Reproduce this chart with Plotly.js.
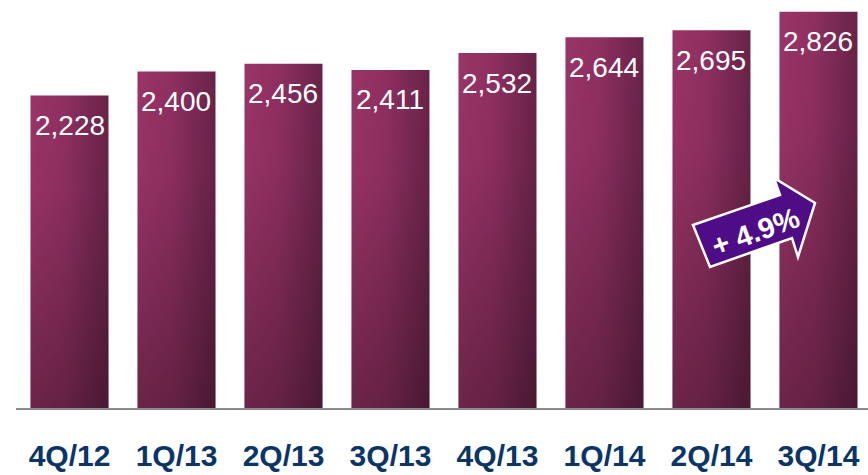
<!DOCTYPE html>
<html>
<head>
<meta charset="utf-8">
<script src="https://cdn.plot.ly/plotly-3.0.1.min.js"></script>
<style>
html,body{margin:0;padding:0;background:#fff;}
#chart{width:868px;height:475px;}
</style>
</head>
<body>
<div id="chart"></div>
<script>
const categories = ["4Q/12","1Q/13","2Q/13","3Q/13","4Q/13","1Q/14","2Q/14","3Q/14"];
const values = [2228, 2400, 2456, 2411, 2532, 2644, 2695, 2826];
const growthLabel = "+ 4.9%";

const fmt = v => v.toLocaleString("en-US");

const trace = {
  type: "bar",
  x: categories,
  y: values,
  marker: {color: "#8a2d5e", line: {width: 0}},
  hoverinfo: "none"
};

const valueAnnotations = categories.map((c, i) => ({
  x: c, y: values[i], xref: "x", yref: "y",
  text: fmt(values[i]),
  showarrow: false,
  yanchor: "middle",
  yshift: -30,
  font: {family: "Liberation Sans, Arial, sans-serif", size: 28, color: "#ffffff"}
}));

// arrow decoration (paper coords)
const P = (px, py) => [((px - 16) / 852).toFixed(4), ((408 - py) / 408).toFixed(4)];
const pts = [P(693,225), P(780,195), P(774,178), P(815,203), P(798,257), P(792,238), P(710,267)];
const arrowPath = "M " + pts.map(p => p.join(",")).join(" L ") + " Z";

const layout = {
  width: 868, height: 475,
  margin: {l: 16, r: 0, t: 0, b: 67},
  paper_bgcolor: "#ffffff",
  plot_bgcolor: "#ffffff",
  bargap: 0.271,
  showlegend: false,
  xaxis: {
    type: "category",
    range: [-0.5, 7.463],
    showline: true, linecolor: "#8c8c8c", linewidth: 2,
    ticks: "", showgrid: false, zeroline: false,
    ticklabelstandoff: 20,
    tickfont: {family: "Liberation Sans, Arial, sans-serif", size: 30, color: "#0b3566", weight: "bold"}
  },
  yaxis: {range: [0, 2910], visible: false, showgrid: false, zeroline: false},
  shapes: [{
    type: "path", xref: "paper", yref: "paper",
    path: arrowPath,
    fillcolor: "#4f0c87",
    line: {color: "#ffffff", width: 2.5},
    layer: "above"
  }],
  annotations: valueAnnotations.concat([{
    xref: "paper", yref: "paper",
    x: (755 - 16) / 852, y: (408 - 232) / 408,
    text: "<b>" + growthLabel + "</b>",
    showarrow: false, textangle: -20,
    xanchor: "center", yanchor: "middle",
    font: {family: "Liberation Sans, Arial, sans-serif", size: 29, color: "#ffffff"}
  }])
};

Plotly.newPlot("chart", [trace], layout, {displayModeBar: false, staticPlot: true}).then(gd => {
  const NS = "http://www.w3.org/2000/svg";
  const svg = gd.querySelector("svg.main-svg");
  let defs = svg.querySelector("defs");
  if (!defs) { defs = document.createElementNS(NS, "defs"); svg.insertBefore(defs, svg.firstChild); }
  function grad(id, x2, y2, stops) {
    const g = document.createElementNS(NS, "linearGradient");
    g.setAttribute("id", id);
    g.setAttribute("x1", "0"); g.setAttribute("y1", "0");
    g.setAttribute("x2", x2); g.setAttribute("y2", y2);
    stops.forEach(s => {
      const st = document.createElementNS(NS, "stop");
      st.setAttribute("offset", s[0]);
      st.setAttribute("stop-color", s[1]);
      st.setAttribute("stop-opacity", s[2]);
      g.appendChild(st);
    });
    defs.appendChild(g);
  }
  grad("hgrad", "1", "0", [["0", "#9a3467", 1], ["0.45", "#8e2f60", 1], ["1", "#682348", 1]]);
  grad("vgrad", "0", "1", [["0", "#000000", 0], ["0.3", "#000000", 0.03], ["1", "#000000", 0.3]]);
  gd.querySelectorAll(".barlayer .point path").forEach(p => {
    p.style.fill = "url(#hgrad)";
    const c = p.cloneNode(true);
    c.style.fill = "url(#vgrad)";
    p.parentNode.insertBefore(c, p.nextSibling);
  });
});
</script>
</body>
</html>
